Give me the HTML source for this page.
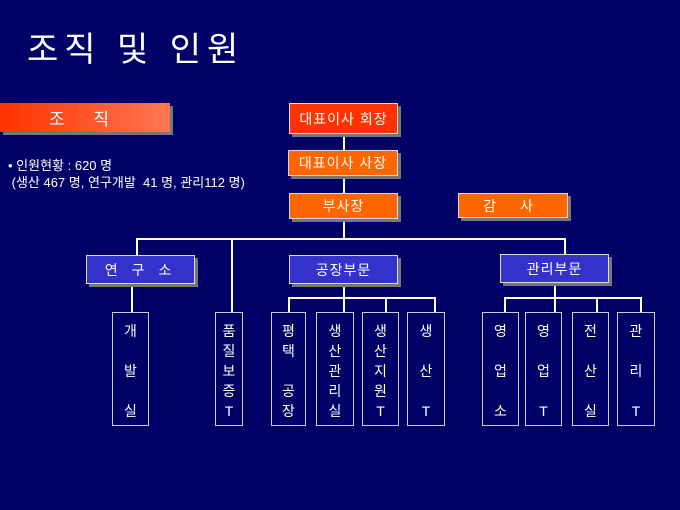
<!DOCTYPE html>
<html><head><meta charset="utf-8"><style>
body{margin:0;width:680px;height:510px;background:#000066;position:relative;overflow:hidden;font-family:"Liberation Sans","Noto Sans CJK KR",sans-serif;color:#fff}
.a{position:absolute;box-sizing:border-box}
.b{border:1px solid #ddd;box-shadow:3px 3px 0 #777;display:flex;align-items:center;justify-content:center;font-size:14px;letter-spacing:1px}
.o{background:#ff6600}
.r{background:#ff3300}
.u{background:#3333cc}
.l{background:#fff}
.v{border:1px solid #ccc;font-size:14px;text-align:center;line-height:20px;padding-top:8px}
</style></head><body>
<div class="a" style="left:27px;top:22px;font-size:34px;letter-spacing:6px">조직 및 인원</div>
<div class="a l" style="left:343px;top:134px;width:2px;height:104px"></div>
<div class="a l" style="left:136px;top:238px;width:430px;height:2px"></div>
<div class="a l" style="left:136px;top:238px;width:2px;height:17px"></div>
<div class="a l" style="left:231px;top:238px;width:2px;height:75px"></div>
<div class="a l" style="left:564px;top:238px;width:2px;height:16px"></div>
<div class="a l" style="left:131px;top:284px;width:2px;height:29px"></div>
<div class="a l" style="left:343px;top:284px;width:2px;height:29px"></div>
<div class="a l" style="left:288px;top:297px;width:148px;height:2px"></div>
<div class="a l" style="left:288px;top:297px;width:2px;height:16px"></div>
<div class="a l" style="left:385px;top:297px;width:2px;height:16px"></div>
<div class="a l" style="left:434px;top:297px;width:2px;height:16px"></div>
<div class="a l" style="left:554px;top:283px;width:2px;height:30px"></div>
<div class="a l" style="left:504px;top:297px;width:138px;height:2px"></div>
<div class="a l" style="left:504px;top:297px;width:2px;height:16px"></div>
<div class="a l" style="left:596px;top:297px;width:2px;height:16px"></div>
<div class="a l" style="left:640px;top:297px;width:2px;height:16px"></div>
<div class="a b" style="left:0;top:103px;width:170px;height:29px;background:linear-gradient(90deg,#ff3300,#ff7755);border:none;font-size:17px;letter-spacing:12px">조 직</div>
<div class="a" style="left:8px;top:157px;font-size:13px;line-height:17px">• 인원현황 : 620 명<br>&nbsp;(생산 467 명, 연구개발 &nbsp;41 명, 관리112 명)</div>
<div class="a b r" style="left:289px;top:103px;width:109px;height:31px">대표이사 회장</div>
<div class="a b o" style="left:288px;top:150px;width:110px;height:26px">대표이사 사장</div>
<div class="a b o" style="left:289px;top:193px;width:109px;height:26px">부사장</div>
<div class="a b o" style="left:458px;top:193px;width:110px;height:25px;letter-spacing:10px">감 사</div>
<div class="a b u" style="left:86px;top:255px;width:109px;height:29px;letter-spacing:5px">연 구 소</div>
<div class="a b u" style="left:289px;top:255px;width:109px;height:29px">공장부문</div>
<div class="a b u" style="left:500px;top:254px;width:109px;height:29px">관리부문</div>
<div class="a v" style="left:112px;top:312px;width:37px;height:114px">개<br><br>발<br><br>실</div>
<div class="a v" style="left:215px;top:312px;width:28px;height:114px">품<br>질<br>보<br>증<br>T</div>
<div class="a v" style="left:271px;top:312px;width:35px;height:114px">평<br>택<br><br>공<br>장</div>
<div class="a v" style="left:316px;top:312px;width:38px;height:114px">생<br>산<br>관<br>리<br>실</div>
<div class="a v" style="left:362px;top:312px;width:37px;height:114px">생<br>산<br>지<br>원<br>T</div>
<div class="a v" style="left:407px;top:312px;width:38px;height:114px">생<br><br>산<br><br>T</div>
<div class="a v" style="left:482px;top:312px;width:37px;height:114px">영<br><br>업<br><br>소</div>
<div class="a v" style="left:525px;top:312px;width:37px;height:114px">영<br><br>업<br><br>T</div>
<div class="a v" style="left:572px;top:312px;width:37px;height:114px">전<br><br>산<br><br>실</div>
<div class="a v" style="left:617px;top:312px;width:38px;height:114px">관<br><br>리<br><br>T</div>
</body></html>
